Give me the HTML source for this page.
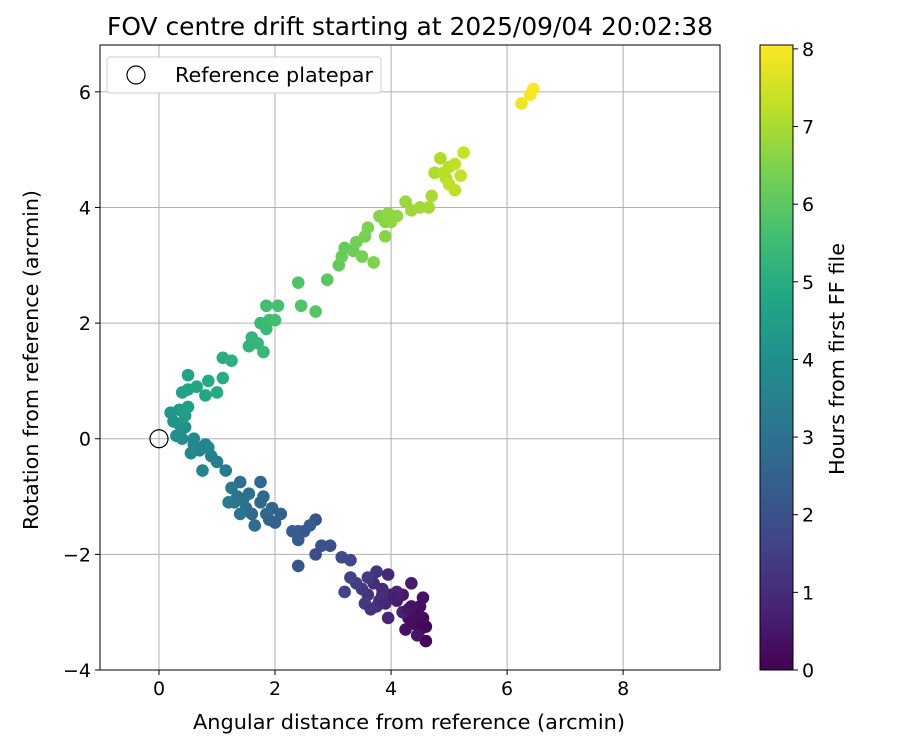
<!DOCTYPE html>
<html><head><meta charset="utf-8"><style>
body{margin:0;background:#fff;}
svg text{font-family:"DejaVu Sans","Liberation Sans",sans-serif;fill:#000;}
</style></head><body>
<svg id="chart" width="900" height="750" xmlns="http://www.w3.org/2000/svg">
<rect width="900" height="750" fill="#fff"/>
<g id="grid"></g>
<g id="points"></g>
<g id="axes"></g>
<text x="410" y="35" font-size="25" text-anchor="middle" textLength="606" lengthAdjust="spacingAndGlyphs">FOV centre drift starting at 2025/09/04 20:02:38</text>
<text x="409" y="729" font-size="20.5" text-anchor="middle" textLength="432" lengthAdjust="spacingAndGlyphs">Angular distance from reference (arcmin)</text>
<text transform="translate(38,360) rotate(-90)" font-size="20.5" text-anchor="middle" textLength="340" lengthAdjust="spacingAndGlyphs">Rotation from reference (arcmin)</text>
<g>
<rect x="107" y="57" width="274" height="36" rx="3" fill="#fff" stroke="#ccc"/>
<circle cx="136" cy="75" r="9" fill="none" stroke="#000" stroke-width="1.2"/>
<text x="175" y="82" font-size="20.5" textLength="198" lengthAdjust="spacingAndGlyphs">Reference platepar</text>
</g>
<defs><linearGradient id="vir" x1="0" y1="1" x2="0" y2="0"></linearGradient></defs>
<g id="cbar"></g>
<text transform="translate(844,359) rotate(-90)" font-size="20.5" text-anchor="middle" textLength="232" lengthAdjust="spacingAndGlyphs">Hours from first FF file</text>
</svg>
<script>
const xTicks=[0,2,4,6,8];
const yTicks=[-4,-2,0,2,4,6];
const cTicks=[0,1,2,3,4,5,6,7,8];
const xs=[4.6,4.6,4.5,4.55,4.4,4.3,4.5,4.55,4.35,4.45,4.2,4.35,4.1,4.0,4.2,4.1,3.95,3.95,3.85,3.8,3.7,3.75,3.6,3.75,3.5,3.55,3.6,3.4,3.3,3.2,3.3,3.15,2.95,2.7,2.8,2.7,2.4,2.5,2.4,2.6,2.3,2.4,2.1,2.0,1.95,1.75,1.85,1.75,1.8,1.65,1.5,1.55,1.4,1.45,1.3,1.4,1.25,1.2,1.15,1.0,0.9,0.8,0.75,0.85,0.7,0.6,0.55,0.4,0.45,0.3,0.35,0.2,0.35,0.45,0.5,0.4,0.5,0.5,0.65,0.8,0.85,1.0,1.1,1.1,1.25,1.55,1.6,1.7,1.8,1.75,1.85,1.9,1.85,2.05,2.0,2.4,2.45,2.7,2.9,3.1,3.2,3.15,3.35,3.4,3.5,3.55,3.6,3.7,3.8,3.9,3.9,3.95,4.0,4.1,4.25,4.35,4.5,4.65,4.7,4.75,4.85,4.95,5.0,5.1,5.1,5.2,5.25,4.9,5.0,6.25,6.4,6.45,4.45,4.3,4.25,3.85,3.65,3.9,4.05,1.9,1.6,1.35,0.6,0.25];
const ys=[-3.5,-3.25,-3.3,-3.1,-3.2,-3.1,-2.9,-2.75,-2.9,-3.4,-2.7,-2.5,-2.8,-2.7,-3.0,-2.65,-3.1,-2.35,-2.6,-2.8,-2.5,-2.9,-2.7,-2.3,-2.6,-2.85,-2.4,-2.5,-2.4,-2.65,-2.1,-2.05,-1.85,-2.0,-1.85,-1.4,-2.2,-1.6,-1.6,-1.5,-1.6,-1.75,-1.3,-1.45,-1.2,-1.1,-1.3,-0.75,-1.0,-1.5,-1.2,-0.95,-0.75,-1.05,-1.1,-1.3,-0.85,-1.1,-0.55,-0.4,-0.3,-0.1,-0.55,-0.15,-0.2,-0.1,-0.25,0.0,0.2,0.05,0.25,0.45,0.5,0.4,0.55,0.8,0.85,1.1,0.9,0.75,1.0,0.8,1.05,1.4,1.35,1.6,1.75,1.65,1.5,2.0,1.9,2.05,2.3,2.3,2.05,2.7,2.3,2.2,2.75,3.0,3.3,3.15,3.25,3.4,3.15,3.5,3.65,3.05,3.85,3.75,3.5,3.9,3.75,3.85,4.1,3.95,4.0,4.0,4.2,4.6,4.85,4.5,4.7,4.3,4.75,4.55,4.95,4.6,4.4,5.8,5.95,6.05,-3.05,-2.95,-3.3,-2.7,-2.95,-2.85,-2.75,-1.4,-1.3,-1.0,0.0,0.3];
const ts=[0.05,0.1,0.15,0.2,0.25,0.3,0.35,0.4,0.45,0.5,0.55,0.6,0.65,0.7,0.75,0.8,0.85,0.9,0.95,1.0,1.05,1.1,1.15,1.2,1.3,1.35,1.4,1.5,1.55,1.6,1.7,1.8,1.9,1.95,2.0,2.1,2.15,2.2,2.25,2.3,2.35,2.4,2.5,2.55,2.6,2.65,2.7,2.75,2.8,2.85,2.9,2.95,3.0,3.05,3.1,3.15,3.2,3.25,3.3,3.4,3.45,3.5,3.55,3.6,3.65,3.7,3.75,3.85,3.95,4.0,4.1,4.2,4.3,4.4,4.5,4.6,4.65,4.7,4.75,4.8,4.85,4.9,5.0,5.05,5.1,5.2,5.25,5.3,5.35,5.4,5.45,5.5,5.6,5.65,5.6,5.8,5.85,5.9,6.0,6.1,6.15,6.2,6.25,6.3,6.35,6.4,6.45,6.5,6.55,6.6,6.6,6.65,6.7,6.75,6.8,6.85,6.9,6.95,7.0,7.05,7.1,7.15,7.2,7.25,7.3,7.35,7.4,7.2,7.3,7.85,7.95,8.0,0.3,0.45,0.35,1.0,1.2,0.9,0.7,2.55,2.8,3.1,3.8,4.15];
const L=100,R=720,T=45,B=670;
const X0=-1.017,X1=9.67,Y0=-4,Y1=6.81,C1=8.05;
const sx=v=>L+(v-X0)/(X1-X0)*(R-L);
const sy=v=>B-(v-Y0)/(Y1-Y0)*(B-T);
const stops=["#440154","#482475","#414487","#355f8d","#2a788e","#21918c","#22a884","#44bf70","#7ad151","#bddf26","#fde725"];
function hex(h){return [1,3,5].map(i=>parseInt(h.substr(i,2),16));}
function cmap(f){f=Math.max(0,Math.min(1,f));const p=f*10,i=Math.min(9,Math.floor(p)),u=p-i;const a=hex(stops[i]),b=hex(stops[i+1]);return "rgb("+a.map((v,k)=>Math.round(v+(b[k]-v)*u)).join(",")+")";}
const NS="http://www.w3.org/2000/svg";
function mk(tag,attrs,parent){const e=document.createElementNS(NS,tag);for(const k in attrs)e.setAttribute(k,attrs[k]);parent.appendChild(e);return e;}
const grid=document.getElementById('grid'),axes=document.getElementById('axes'),pts=document.getElementById('points');
xTicks.forEach(v=>{
 const g=mk('line',{x1:sx(v),x2:sx(v),y1:T,y2:B,stroke:'#b0b0b0','stroke-width':1},grid);
 
 
 mk('line',{x1:sx(v),x2:sx(v),y1:B,y2:B+5,stroke:'#000'},axes);
 const t=mk('text',{x:sx(v),y:B+25,'font-size':19,'text-anchor':'middle'},axes);t.textContent=v;
 
 
});
yTicks.forEach(v=>{
 const g=mk('line',{x1:L,x2:R,y1:sy(v),y2:sy(v),stroke:'#b0b0b0','stroke-width':1},grid);
 
 
 mk('line',{x1:L-5,x2:L,y1:sy(v),y2:sy(v),stroke:'#000'},axes);
 const t=mk('text',{x:L-9,y:sy(v)+7,'font-size':19,'text-anchor':'end'},axes);t.textContent=(v<0?'\u2212'+(-v):v);
 
 
});
mk('rect',{x:L,y:T,width:R-L,height:B-T,fill:'none',stroke:'#000','stroke-width':1},axes);
xs.forEach((x,i)=>{
 const c=mk('circle',{cx:sx(x),cy:sy(ys[i]),r:6.3,fill:cmap(ts[i]/C1)},pts);
 
 
});
const ref=mk('circle',{cx:sx(0),cy:sy(0),r:9,fill:'none',stroke:'#000','stroke-width':1.2},pts);


const grad=document.getElementById('vir');
stops.forEach((s,i)=>mk('stop',{offset:(i/10),'stop-color':s},grad));
const cb=document.getElementById('cbar');
const CL=760,CR=793;
const cy=v=>B-v/C1*(B-T);
mk('rect',{x:CL,y:T,width:CR-CL,height:B-T,fill:'url(#vir)',stroke:'#000','stroke-width':1},cb);
cTicks.forEach(v=>{
 mk('line',{x1:CR,x2:CR+5,y1:cy(v),y2:cy(v),stroke:'#000'},cb);
 const t=mk('text',{x:CR+9,y:cy(v)+7,'font-size':19},cb);t.textContent=v;
 
 
});
</script>
</body></html>
